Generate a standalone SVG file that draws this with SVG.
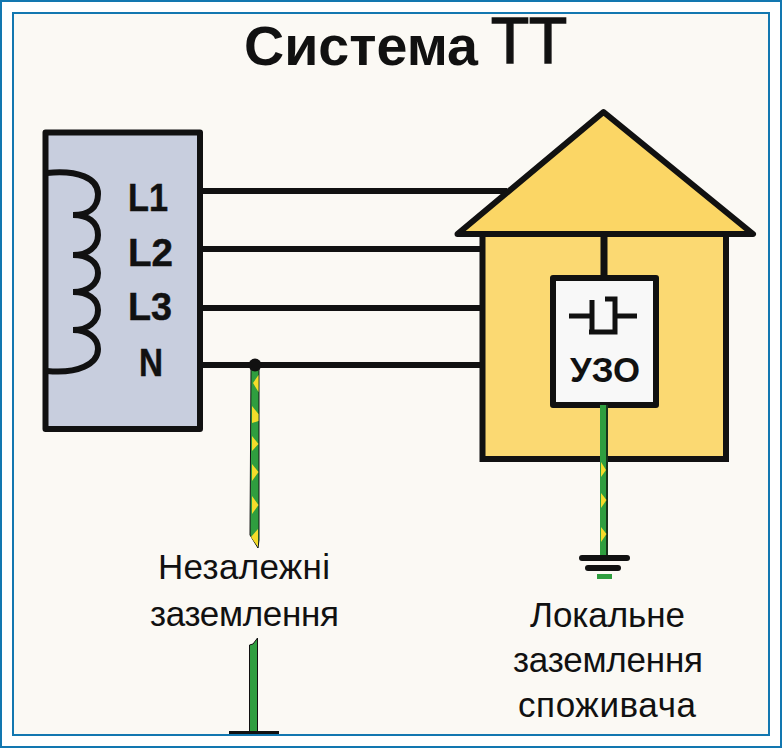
<svg xmlns="http://www.w3.org/2000/svg" width="782" height="748" viewBox="0 0 782 748">
<style>
.w{stroke:#111;stroke-width:6;fill:none}
.t{font-family:"Liberation Sans",Arial,sans-serif;fill:#111}
.b{font-weight:700}
.lab{font-size:35px;text-anchor:start}
.term{font-size:39px;font-weight:700;stroke:#111;stroke-width:.5}
.g{fill:#2f9e3f}
.y{fill:#f5dc2a}
.sym{fill:none;stroke:#111;stroke-width:5}
</style>
<rect width="782" height="748" fill="#fff"/>
<rect x="13" y="13" width="756" height="722" fill="#fbf9f4" stroke="#1277b0" stroke-width="2"/>
<rect x="1" y="1" width="780" height="746" fill="none" stroke="#1277b0" stroke-width="2"/>
<text id="title" class="t b" x="244" y="65" font-size="55.6">Система</text>
<text id="title-tt" class="t" x="491" y="63" font-size="65" textLength="76" lengthAdjust="spacingAndGlyphs" stroke="#111" stroke-width="1.6">TT</text>

<g id="connectors">
<path class="w" d="M198 191H507M198 249H485M198 308H485M198 365H485"/>
</g>

<g id="source">
<rect x="45.5" y="132.5" width="154.5" height="296.5" fill="#c8cede" stroke="#111" stroke-width="6" stroke-linejoin="round"/>
<path d="M47 173C78 170 98 178 98 194C98 208 88 215 73 215C88 215 98 222 98 235C98 247 88 255 73 255C88 255 98 262 98 273C98 284 88 292 73 292C88 292 98 299 98 310C98 322 88 330 73 330C88 330 98 338 98 349C98 364 78 374 47 371" fill="none" stroke="#111" stroke-width="6"/>
<text class="t term" x="128" y="211" textLength="40" lengthAdjust="spacingAndGlyphs">L1</text>
<text class="t term" x="128" y="266" textLength="45" lengthAdjust="spacingAndGlyphs">L2</text>
<text class="t term" x="128" y="320" textLength="44" lengthAdjust="spacingAndGlyphs">L3</text>
<text class="t term" x="139" y="376" textLength="24" lengthAdjust="spacingAndGlyphs">N</text>
</g>

<g id="house">
<rect x="482.5" y="234" width="243.5" height="225" fill="#fbd972" stroke="#111" stroke-width="6"/>
<path d="M603.5 112L753 234H457.5Z" fill="#fbd665" stroke="#111" stroke-width="6" stroke-linejoin="round"/>
<path d="M604 234V278" stroke="#111" stroke-width="7"/>
</g>

<g id="uzo">
<rect x="553" y="278" width="103" height="127" fill="#f8f8f8" stroke="#111" stroke-width="6" stroke-linejoin="round"/>
<path class="sym" d="M569 316H592M616 316H637"/>
<path class="sym" d="M592 300V332M589 332H615V299H605"/>
<text class="t b" x="570" y="382" font-size="35" textLength="70" lengthAdjust="spacingAndGlyphs">УЗО</text>
</g>

<g id="earth-neutral">
<path d="M251 367H259V540L258 548L250 535Z" class="g" stroke="#111" stroke-width="1"/>
<path class="y" d="M258.500 375L253 383L258.500 392ZM252 406L258.500 414V421L252 423ZM252 436L258.500 444L252 451ZM252 464L258.500 472L252 481ZM252 496L258.500 505L252 514ZM258 529L251 537L258 547Z"/>
<circle cx="255" cy="365" r="6.5" fill="#111"/>
</g>

<g id="earth-neutral-lower">
<path d="M249.500 645L253 644L257.500 638V733H249.500Z" class="g" stroke="#111" stroke-width="1"/>
<rect x="229" y="731" width="50" height="3" fill="#111"/>
</g>

<g id="earth-local">
<rect x="600" y="405" width="8" height="152" class="g"/>
<path d="M607 405V557" stroke="#111" stroke-width="1.500"/>
<path class="y" d="M601 462L606 470L601 477ZM601 493L606.500 500L601 508ZM601 527L606.500 534L601 542Z"/>
<path d="M582 558H627" stroke="#111" stroke-width="6" stroke-linecap="round"/>
<path d="M588 568H618" stroke="#111" stroke-width="6" stroke-linecap="round"/>
<rect x="597" y="574" width="15" height="5" class="g"/>
</g>

<g id="labels">
<text class="t lab" x="158" y="579" textLength="172">Незалежні</text>
<text class="t lab" x="150" y="626" textLength="189">заземлення</text>
<text class="t lab" x="530" y="627" textLength="155">Локальне</text>
<text class="t lab" x="513" y="672" textLength="190">заземлення</text>
<text class="t lab" x="518" y="717" textLength="178">споживача</text>
</g>
</svg>
